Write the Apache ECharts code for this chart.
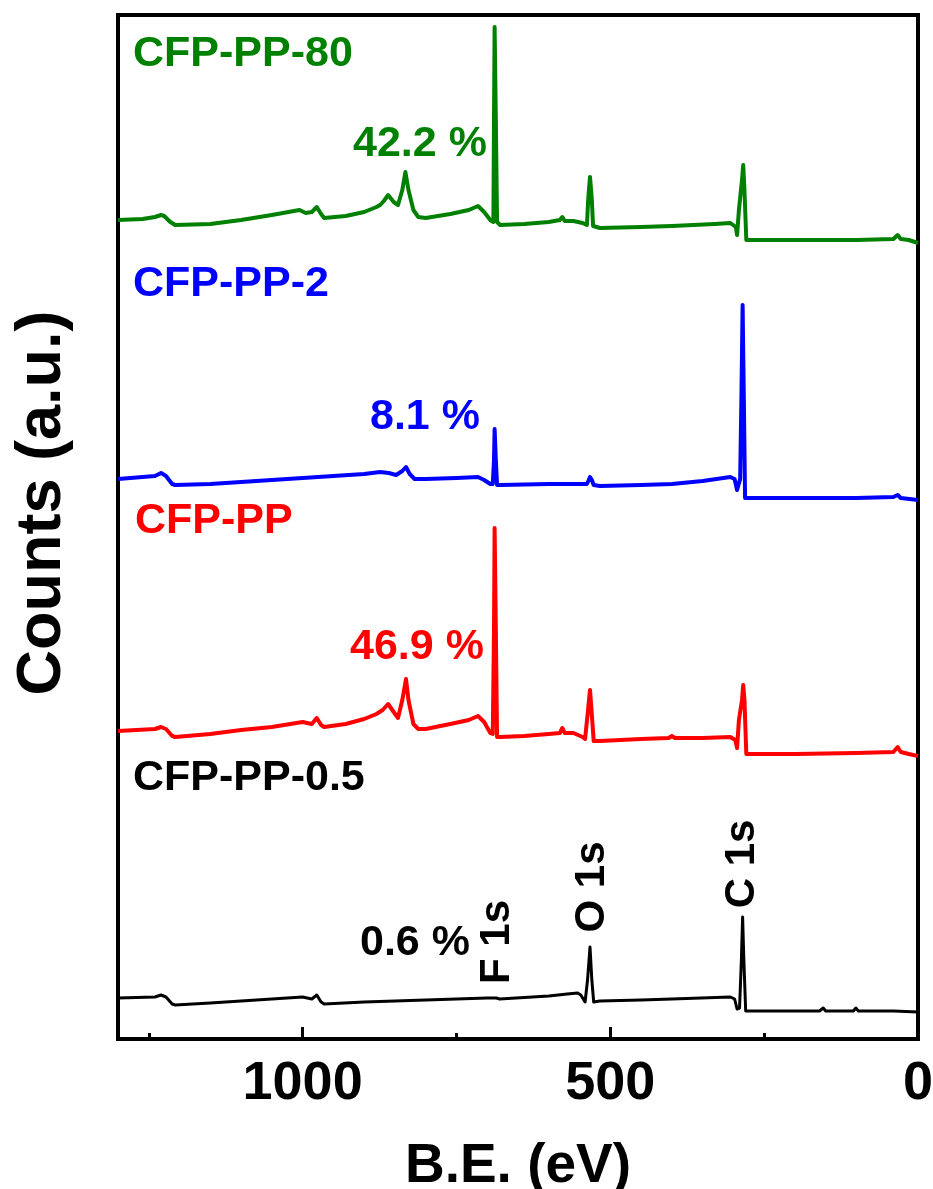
<!DOCTYPE html>
<html>
<head>
<meta charset="utf-8">
<script src="https://cdn.jsdelivr.net/npm/echarts@6/dist/echarts.min.js"></script>
<style>html,body{margin:0;padding:0;background:#fff;}#c{width:933px;height:1189px;}</style>
</head>
<body>
<div id="c"></div>
<script>
// Binding energy (eV) / intensity (a.u., curves shown with vertical offsets)
const cfp80 = [[1300,819],[1260,820],[1240,822],[1230,824],[1225,823],[1215,817],[1207,814],[1150,815],[1100,819],[1050,824],[1005,829],[995,826],[985,827],[977,832],[970,825],[965,821],[930,823],[900,827],[880,832],[874,834],[868,838],[861,844],[852,837],[845,834],[838,849],[833,867],[828,849],[820,829],[812,822],[800,821],[760,825],[730,829],[715,833],[705,827],[695,819],[690,817],[689,919],[688,1012],[686,919],[684,817],[679,814],[640,815],[600,817],[582,819],[578,822],[574,818],[560,818],[545,816],[538,814],[536,839],[533,862],[530,839],[528,813],[517,811],[450,812],[400,813],[330,815],[305,816],[296,812],[294,804],[291,829],[289,831],[286,859],[284,874],[282,849],[279,799],[273,799],[200,799],[100,799],[40,800],[33,804],[28,800],[15,799],[0,796]];
const cfp2 = [[1300,560],[1240,563],[1230,566],[1222,563],[1212,555],[1207,554],[1150,555],[1100,557],[1050,559],[1000,561],[950,563],[900,565],[874,567],[860,566],[848,564],[838,568],[832,572],[826,565],[818,560],[800,560],[750,561],[715,562],[705,559],[695,555],[691,555],[689,579],[688,610],[686,579],[684,554],[679,554],[600,555],[560,555],[538,555],[535,559],[533,562],[530,559],[527,554],[517,553],[450,554],[400,555],[350,558],[305,562],[298,560],[294,549],[291,547],[289,560],[287,639],[285,734],[283,639],[281,541],[279,541],[200,541],[100,541],[40,542],[33,544],[28,541],[0,539]];
const cfp = [[1300,308],[1240,310],[1230,312],[1222,310],[1212,303],[1207,302],[1150,305],[1100,309],[1050,312],[1000,317],[985,315],[977,321],[970,314],[965,312],[930,315],[900,320],[880,325],[870,329],[861,335],[852,327],[845,321],[838,339],[832,360],[828,339],[820,315],[812,310],[800,310],[760,315],[730,319],[715,323],[705,317],[695,306],[691,305],[689,409],[688,511],[686,409],[684,302],[679,302],[640,303],[600,305],[582,306],[578,311],[574,306],[560,306],[545,302],[541,300],[537,324],[533,349],[530,324],[527,298],[517,298],[450,300],[405,301],[400,303],[395,301],[350,301],[305,302],[297,299],[294,291],[291,319],[289,321],[286,339],[284,354],[282,339],[279,285],[273,285],[200,285],[100,286],[40,287],[33,292],[28,287],[15,285],[0,283]];
const cfp05 = [[1300,41],[1240,42],[1230,44],[1222,42],[1212,35],[1207,34],[1150,36],[1100,38],[1050,40],[1000,42],[985,40],[977,44],[970,37],[965,35],[900,37],[800,39],[700,41],[690,41],[688,43],[685,41],[680,40],[600,43],[570,45],[553,46],[548,44],[541,37],[537,59],[533,92],[530,59],[527,37],[517,38],[450,39],[400,40],[305,42],[298,40],[294,30],[290,31],[287,79],[285,122],[283,79],[280,28],[273,28],[160,28],[154,31],[150,28],[105,28],[101,31],[97,28],[40,28],[0,27]];

const seriesNames = ['CFP-PP-80','CFP-PP-2','CFP-PP','CFP-PP-0.5'];
const seriesColors = ['#008000','#0000ff','#ff0000','#000000'];
const fContent = ['42.2 %','8.1 %','46.9 %','0.6 %'];
const peakLabels = ['F 1s','O 1s','C 1s'];
const xTicks = [0, 500, 1000];

const chart = echarts.init(document.getElementById('c'));
const FONT = '"Liberation Sans", Arial, sans-serif';
const datasets = [cfp80, cfp2, cfp, cfp05];

function txt(text, x, y, color, size, rot) {
  return {
    type: 'text', x: x, y: y, rotation: rot || 0,
    style: { text: text, fill: color, font: 'bold ' + size + 'px ' + FONT,
             textAlign: rot ? 'center' : 'left', textVerticalAlign: 'middle' },
    z: 100
  };
}

chart.setOption({
  animation: false,
  backgroundColor: '#ffffff',
  grid: { left: 118, right: 15, top: 15, bottom: 150, outerBoundsMode: 'none', containLabel: false,
          show: true, borderColor: '#000', borderWidth: 4, backgroundColor: 'transparent' },
  xAxis: {
    type: 'value', inverse: true, min: 0, max: 1300, interval: 500, splitNumber: 2,
    name: 'B.E. (eV)', nameLocation: 'middle', nameGap: 100,
    nameTextStyle: { fontFamily: FONT, fontWeight: 'bold', fontSize: 55, color: '#000' },
    axisLine: { show: true, lineStyle: { color: '#000', width: 4 } },
    axisTick: { show: true, inside: true, length: 12, lineStyle: { color: '#000', width: 3 } },
    minorTick: { show: true, splitNumber: 2, length: 6, lineStyle: { color: '#000', width: 3 } },
    splitLine: { show: false },
    axisLabel: { show: true, margin: 18, fontFamily: FONT, fontWeight: 'bold', fontSize: 54, color: '#000',
      formatter: function (v) { return xTicks.indexOf(v) >= 0 ? String(v) : ''; } }
  },
  yAxis: {
    type: 'value', min: 0, max: 1024,
    name: 'Counts (a.u.)', nameLocation: 'middle', nameGap: 44,
    nameTextStyle: { fontFamily: FONT, fontWeight: 'bold', fontSize: 63, color: '#000', padding: [0, 0, 0, 48] },
    axisLine: { show: false }, axisTick: { show: false }, axisLabel: { show: false }, splitLine: { show: false }
  },
  series: datasets.map(function (d, i) {
    return {
      name: seriesNames[i], type: 'line', data: d, showSymbol: false, symbol: 'none',
      lineStyle: { color: seriesColors[i], width: i === 3 ? 3 : 4, join: 'round' },
      itemStyle: { color: seriesColors[i] }, z: 10 - i
    };
  }),
  graphic: [
    txt(seriesNames[0], 133, 54, seriesColors[0], 43),
    txt(fContent[0], 353, 144, seriesColors[0], 43),
    txt(seriesNames[1], 133, 284, seriesColors[1], 43),
    txt(fContent[1], 370, 417, seriesColors[1], 43),
    txt(seriesNames[2], 135, 521, seriesColors[2], 43),
    txt(fContent[2], 350, 647, seriesColors[2], 43),
    txt(seriesNames[3], 133, 778, seriesColors[3], 43),
    txt(fContent[3], 360, 943, seriesColors[3], 43),
    txt(peakLabels[0], 497, 942, '#000', 42, Math.PI / 2),
    txt(peakLabels[1], 592, 887, '#000', 42, Math.PI / 2),
    txt(peakLabels[2], 742, 864, '#000', 42, Math.PI / 2)
  ]
});
</script>
</body>
</html>
